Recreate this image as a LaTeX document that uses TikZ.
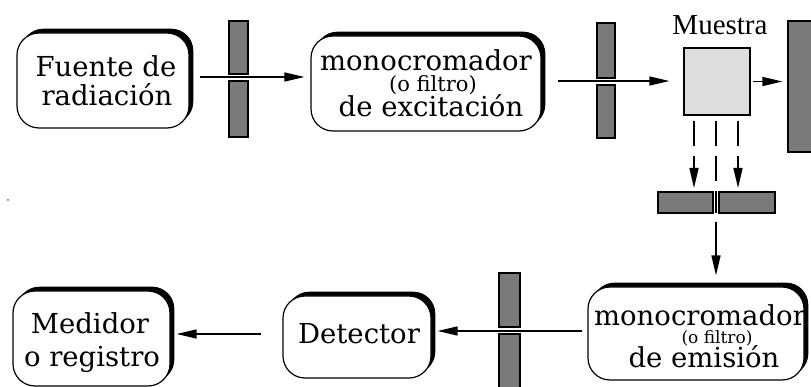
\documentclass[tikz,border=0pt]{standalone}
\usepackage{fontspec}
\newfontfamily\timesf{Liberation Serif}
\newfontfamily\boxf{DejaVu Serif}
\usetikzlibrary{shadows,arrows.meta}
\definecolor{filtgray}{HTML}{7A7A7A}
\definecolor{samplegray}{HTML}{DDDDDD}
\begin{document}
\begin{tikzpicture}[x=1pt,y=-1pt,
  rbox/.style={draw, line width=1.2pt, fill=white, rounded corners=22pt, inner sep=0pt,
    drop shadow={shadow xshift=4.3pt, shadow yshift=4.3pt, fill=black, opacity=1}},
  filt/.style={draw, line width=1.3pt, fill=filtgray},
  arr/.style={line width=1.4pt, -{Triangle[length=20pt,width=9pt]}},
  big/.style={font=\boxf\fontsize{27.5}{27.5}\selectfont, anchor=base, inner sep=0pt},
  small/.style={font=\boxf\fontsize{21}{21}\selectfont, anchor=base, inner sep=0pt},
  tiny/.style={font=\boxf\fontsize{17}{17}\selectfont, anchor=base, inner sep=0pt},
]
\useasboundingbox (0,0) rectangle (811,387);
\clip (0,0) rectangle (811,387);

% boxes
\node[rbox, minimum width=172pt, minimum height=95pt] (fuente) at (103,80.5) {};
\node[rbox, minimum width=230pt, minimum height=95pt] (exc) at (426,83.5) {};
\node[rbox, minimum width=216pt, minimum height=93pt] (emis) at (696,333.5) {};
\node[rbox, minimum width=148pt, minimum height=82pt] (det) at (357,337) {};
\node[rbox, minimum width=157pt, minimum height=95pt] (med) at (91.5,338.5) {};

% texts
\node[big] (t1) at (106,77) {Fuente de};
\node[big] (t2) at (107,106) {radiación};
\node[big] (t3) at (426,71) {monocromador};
\node[small] (t4) at (433,92) {(o filtro)};
\node[big] (t5) at (431,117) {de excitación};
\node[big] (t6) at (700,326) {monocromador};
\node[tiny] (t7) at (717,343) {(o filtro)};
\node[big] (t8) at (704,367) {de emisión};
\node[big] (t9) at (359,343) {Detector};
\node[big] (t10) at (90,334) {Medidor};
\node[big] (t11) at (92,366) {o registro};

% sample and block
\node[draw, line width=1.3pt, fill=samplegray, minimum width=66pt, minimum height=67pt, inner sep=0pt] (sample) at (717,81.5) {};
\node[font=\timesf\fontsize{29}{29}\selectfont, anchor=base, inner sep=0pt] (mlabel) at (720,35) {Muestra};
\node[draw, line width=1.3pt, fill=filtgray, minimum width=42pt, minimum height=131pt, inner sep=0pt] (block) at (809,86.5) {};

% filters
\draw[filt] (229,21) rectangle (248,74);
\draw[filt] (229,81) rectangle (248,137);
\draw[filt] (597,23) rectangle (615,78);
\draw[filt] (597,85) rectangle (615,138);
\draw[filt] (658,192) rectangle (713,213);
\draw[filt] (719,192) rectangle (775,213);
\draw[filt] (499,273) rectangle (520,327);
\draw[filt] (499,334) rectangle (520,400);

% arrows
\draw[arr] ([xshift=10pt]fuente.east |- 0,77) -- ([xshift=-6pt]exc.west |- 0,77);
\draw[arr] ([xshift=16pt]exc.east |- 0,81) -- ([xshift=-14pt]sample.west |- 0,81);
\draw[arr] ([xshift=2pt]sample.east) -- ([xshift=-5pt]block.west |- sample.east);

\coordinate (d1) at (694,188);
\coordinate (d3) at (738,188);
\coordinate (slit) at (716,213);
\draw[arr, dash pattern=on 25pt off 10pt] ([xshift=-23pt,yshift=-5pt]sample.south) -- (d1);
\draw[arr, dash pattern=on 25pt off 10pt] ([xshift=21pt,yshift=-5pt]sample.south) -- (d3);
\draw[line width=1.4pt, dash pattern=on 25pt off 10pt] ([xshift=-1pt,yshift=-5pt]sample.south) -- (slit);
\draw[arr] (716,222) -- ([xshift=20pt,yshift=11pt]emis.north);

\draw[arr] ([xshift=-5pt]emis.west |- 0,331) -- ([xshift=6pt]det.east |- 0,331);
\draw[arr] ([xshift=-21pt]det.west |- 0,334) -- ([xshift=6pt]med.east |- 0,334);

\fill[black!60] (8,200) circle (1pt);
\end{tikzpicture}
\end{document}
